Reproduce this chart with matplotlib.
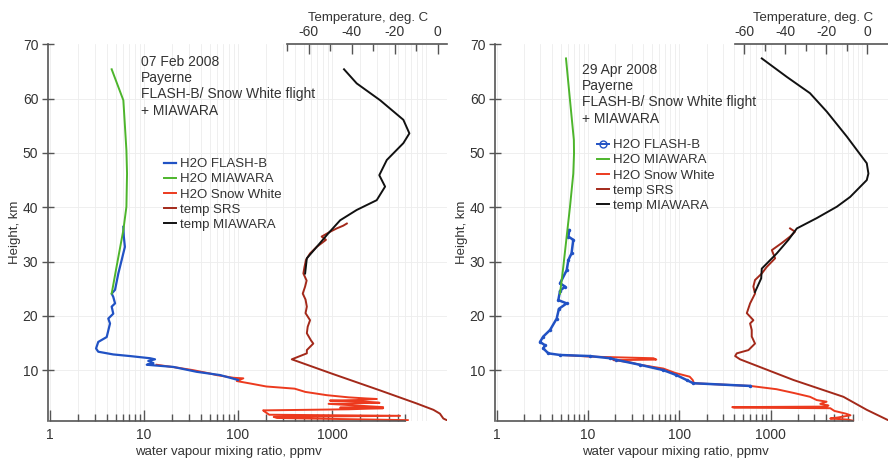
import numpy as np
import matplotlib
matplotlib.use("Agg")
import matplotlib.pyplot as plt
from matplotlib.ticker import FixedLocator, NullFormatter
from matplotlib.lines import Line2D

plt.rcParams['font.family'] = ['Liberation Sans', 'DejaVu Sans']
plt.rcParams['axes.unicode_minus'] = False

# ---- 07 Feb 2008 ----
feb_mia_h = [65.4, 59.7, 50.5, 46.2, 40.1, 35.8, 29.0, 24.1]
feb_mia_v = [4.53, 6.03, 6.5, 6.6, 6.5, 6.03, 5.1, 4.53]

feb_flash_h = [36.4, 34.6, 32.7, 30.3, 27.8, 24.8, 24.1, 23.5, 22.3, 21.7, 20.4, 19.5, 18.6,
               16.1, 15.2, 14.0, 13.4, 12.9, 12.6, 12.2, 12.0, 11.7, 11.3, 11.0, 10.6, 9.7, 9.1, 8.2]
feb_flash_v = [6.03, 6.1, 6.26, 5.79, 5.33, 4.92, 4.53, 4.71, 4.92, 4.53, 4.71, 4.17, 4.35,
               4.01, 3.26, 3.09, 3.26, 4.71, 7.1, 11.6, 13.1, 11.1, 12.6, 10.7, 20.5, 36.4, 64.5, 100]

feb_sw_h = [11.0, 10.4, 10.0, 9.4, 9.1, 8.6, 8.5, 8.0, 7.5, 7.0, 6.6, 6.0, 5.4, 5.0, 4.8, 4.7,
            4.5, 4.4, 4.2, 4.0, 3.8, 3.5, 3.2, 3.1, 3.0, 2.8, 2.6, 2.3, 1.8, 1.6, 1.4, 1.2, 0.8]
feb_sw_v = [13.6, 24, 33.5, 50, 59, 90, 114, 97, 140, 200, 400, 520, 880, 1500, 2300, 3000,
            1800, 950, 2300, 3200, 920, 1800, 3500, 1220, 3500, 1500, 185, 195, 215, 5300, 240, 260, 6400]

feb_srs_h = [37.0, 36.6, 36.1, 35.5, 34.6, 34.0, 32.7, 31.5, 30.3, 29.0, 27.8, 26.5, 25.4, 24.1,
             23.0, 21.7, 20.5, 19.2, 18.0, 16.8, 15.5, 14.9, 13.7, 13.1, 12.0, 9.4, 6.3, 3.9, 2.7,
             2.0, 1.1, 0.8]
feb_srs_t = [-42.3, -44, -47, -50, -54, -52, -56.3, -59.4, -61.3, -62, -62.5, -61, -61.7, -62.8,
             -61.5, -60.9, -61.5, -59.4, -60.5, -60.9, -59, -57.9, -60.9, -60.9, -67.9, -49.5, -27,
             -10, -2, 1, 2.6, 4.2]

feb_tmia_h = [65.4, 62.8, 59.7, 56.1, 53.6, 51.8, 48.7, 45.9, 43.8, 41.3, 39.5, 37.6, 35.2, 32.7,
              30.6, 27.8]
feb_tmia_t = [-43.6, -37.7, -26.8, -16, -13.2, -16, -23.7, -27.2, -24.5, -28.4, -37.7, -45.4,
              -50.9, -56.3, -60.9, -61.7]

# ---- 29 Apr 2008 ----
apr_mia_h = [67.4, 59.7, 52.4, 49.9, 46.2, 40.1, 34.6, 29.0, 24.1]
apr_mia_v = [5.74, 6.35, 7.0, 7.03, 6.9, 6.35, 5.84, 5.36, 4.94]

apr_flash_h = [35.8, 34.6, 34.0, 31.5, 30.3, 28.4, 26.0, 25.4, 24.6, 22.9, 22.3, 21.3, 19.5, 17.4,
               16.2, 15.2, 14.6, 14.0, 13.1, 12.8, 12.6, 12.2, 11.9, 11.0, 10.0, 9.1, 8.2, 7.6, 7.1]
apr_flash_v = [6.24, 6.1, 6.9, 6.6, 6.1, 5.84, 4.94, 5.6, 4.94, 4.73, 5.84, 4.8, 4.54, 3.84,
               3.24, 2.98, 3.38, 3.24, 3.68, 4.94, 10.5, 17.4, 20.5, 37, 67, 93, 120, 142, 595]

apr_sw_h = [12.8, 12.5, 12.3, 12.2, 11.95, 11.85, 11.5, 11.0, 10.3, 9.5, 8.8, 8.2, 7.6, 7.1, 6.5,
            5.8, 5.1, 4.5, 4.2, 3.8, 3.5, 3.3, 3.2, 3.1, 3.0, 2.5, 2.0, 1.7, 1.3, 1.1, 0.9, 0.7]
apr_sw_v = [5.2, 10.5, 30, 52, 56, 19, 28, 37, 67, 90, 130, 140, 145, 600, 1160, 1800, 2700,
            3200, 4100, 3500, 4300, 4100, 380, 400, 4500, 5000, 6650, 7500, 5500, 4500, 7000, 8000]

apr_srs_h = [36.1, 35.5, 34.6, 33.4, 32.1, 30.6, 29.0, 27.8, 26.6, 25.4, 24.1, 22.3, 20.5, 19.2,
             18.6, 17.4, 16.2, 14.9, 13.7, 13.1, 12.6, 12.0, 8.2, 5.1, 2.7, 0.8]
apr_srs_t = [-37.7, -35.3, -37.7, -41.8, -46.6, -45, -49.1, -51.5, -54.8, -55.6, -54.8, -57.2,
             -58.8, -55.6, -57.2, -56.4, -56.4, -54.8, -58, -63.7, -64.5, -62.1, -36.1, -11.7,
             -0.3, 10.1]

apr_tmia_h = [67.4, 64.0, 61.0, 57.6, 53.0, 48.1, 46.2, 45.0, 41.9, 40.1, 38.0, 36.1, 34.0, 31.5,
              28.7, 26.9, 24.4]
apr_tmia_t = [-51.5, -39.3, -28, -19.8, -10, -0.3, 0.5, -0.3, -8.4, -14.9, -24.7, -34.4, -38.5,
              -44.2, -51.5, -51.8, -54.8]

labels = ["H2O FLASH-B", "H2O MIAWARA", "H2O Snow White", "temp SRS", "temp MIAWARA"]
feb_text = "07 Feb 2008\nPayerne\nFLASH-B/ Snow White flight\n+ MIAWARA"
apr_text = "29 Apr 2008\nPayerne\nFLASH-B/ Snow White flight\n+ MIAWARA"

C_BLUE, C_GREEN, C_RED, C_BROWN, C_BLACK = "#2152c4", "#4db52c", "#ec3a1e", "#a3291a", "#111111"
TXT = "#333333"
SP = "#555555"

W, H = 888, 463
fig = plt.figure(figsize=(W / 100, H / 100), dpi=100)


def panel(px0, px1, xmin, xmax, xbound, tlim, tbound, data, text, text_xy, leg_xy, markers,
          xlab_x, tlab_x):
    py_top, py_bot = 44.3, 420.7
    ax = fig.add_axes([px0 / W, 1 - py_bot / H, (px1 - px0) / W, (py_bot - py_top) / H])
    ax.set_xscale("log")
    ax.set_xlim(xmin, xmax)
    ax.set_ylim(0.7, 70)

    # faint grid
    for d in [1, 10, 100, 1000, 10000]:
        for s in range(1, 10):
            v = d * s
            if xmin < v < xmax:
                ax.axvline(v, color="#ededed", lw=0.6, zorder=0)
    for hh in range(10, 70, 10):
        ax.axhline(hh, color="#ededed", lw=0.6, zorder=0)

    (sw_h, sw_v, fl_h, fl_v, mi_h, mi_v, srs_h, srs_t, tm_h, tm_t) = data
    l3, = ax.plot(sw_v, sw_h, color=C_RED, lw=1.4)
    if markers:
        ax.plot(fl_v, fl_h, color=C_BLUE, lw=1.8, marker="o", ms=2.5, mew=0)
    else:
        ax.plot(fl_v, fl_h, color=C_BLUE, lw=1.6)
    l2, = ax.plot(mi_v, mi_h, color=C_GREEN, lw=1.4)

    for s in ["top", "right"]:
        ax.spines[s].set_visible(False)
    for s in ["left", "bottom"]:
        ax.spines[s].set_color(SP)
        ax.spines[s].set_linewidth(1.2)
    ax.spines["bottom"].set_bounds(1, xbound)
    ax.xaxis.set_major_locator(FixedLocator([1, 10, 100, 1000]))
    ax.set_xticklabels(["1", "10", "100", "1000"])
    minors = [d * s for d in [1, 10, 100, 1000] for s in range(2, 10) if d * s <= xbound]
    ax.xaxis.set_minor_locator(FixedLocator(minors))
    ax.xaxis.set_minor_formatter(NullFormatter())
    ax.tick_params(axis="x", which="major", direction="in", length=8, width=1, color=SP,
                   labelsize=10, labelcolor=TXT, pad=5)
    ax.tick_params(axis="x", which="minor", direction="in", length=5, width=1, color=SP)
    ax.set_yticks([10, 20, 30, 40, 50, 60, 70])
    ax.tick_params(axis="y", direction="inout", length=8, width=1, color=SP, labelsize=10,
                   labelcolor=TXT, pad=3)
    ax.set_xlabel("water vapour mixing ratio, ppmv", fontsize=9.5, color=TXT)
    ax.xaxis.set_label_coords(xlab_x, -0.066)
    ax.set_ylabel("Height, km", fontsize=9.5, color=TXT)
    ax.yaxis.set_label_coords(-0.068, 0.5)

    # temperature on its own top axis
    ax2 = ax.twiny()
    ax2.set_xlim(*tlim)
    l4, = ax2.plot(srs_t, srs_h, color=C_BROWN, lw=1.4)
    l5, = ax2.plot(tm_t, tm_h, color=C_BLACK, lw=1.4)
    for s in ["bottom", "left", "right"]:
        ax2.spines[s].set_visible(False)
    ax2.spines["top"].set_bounds(*tbound)
    ax2.spines["top"].set_color(SP)
    ax2.spines["top"].set_linewidth(1.2)
    ax2.xaxis.set_major_locator(FixedLocator([-60, -40, -20, 0]))
    ax2.xaxis.set_minor_locator(FixedLocator([v for v in [-70, -50, -30, -10] if v >= tbound[0]]))
    ax2.tick_params(axis="x", which="major", direction="in", length=7, width=1, color=SP,
                    labelsize=10, labelcolor=TXT, pad=4)
    ax2.tick_params(axis="x", which="minor", direction="in", length=5, width=1, color=SP)
    ax2.set_xlabel("Temperature, deg. C", fontsize=9.5, color=TXT)
    ax2.xaxis.set_label_coords(tlab_x, 1.063)

    fig.text(text_xy[0] / W, 1 - text_xy[1] / H, text, fontsize=10, color=TXT,
             va="top", ha="left", linespacing=1.2)

    if markers:
        h1 = Line2D([], [], color=C_BLUE, lw=1.4, marker="o", ms=5, mfc="none", mew=1)
    else:
        h1 = Line2D([], [], color=C_BLUE, lw=1.6)
    handles = [h1, l2, l3, l4, l5]
    leg = ax2.legend(handles, labels, loc="upper left",
                     bbox_to_anchor=(leg_xy[0] / W, 1 - leg_xy[1] / H),
                     bbox_transform=fig.transFigure, frameon=False, fontsize=9.5,
                     handlelength=0.9, handletextpad=0.35, labelspacing=0.22, borderpad=0,
                     borderaxespad=0)
    for t in leg.get_texts():
        t.set_color(TXT)
    return ax, ax2


panel(48, 447, 10 ** (-2 / 94), 10 ** (397 / 94), 6000, (-181.3, 4.3), (-70, 4.3),
      (feb_sw_h, feb_sw_v, feb_flash_h, feb_flash_v, feb_mia_h, feb_mia_v,
       feb_srs_h, feb_srs_t, feb_tmia_h, feb_tmia_t),
      feb_text, (141, 55), (164, 158), False, 0.451, 0.802)

panel(495, 888, 10 ** (-1.7 / 91.3), 10 ** (391.3 / 91.3), 8000, (-181.6, 10.05), (-64.6, 10.05),
      (apr_sw_h, apr_sw_v, apr_flash_h, apr_flash_v, apr_mia_h, apr_mia_v,
       apr_srs_h, apr_srs_t, apr_tmia_h, apr_tmia_t),
      apr_text, (582, 63), (597, 139), True, 0.46, 0.809)

fig.savefig("out.png", dpi=100)
